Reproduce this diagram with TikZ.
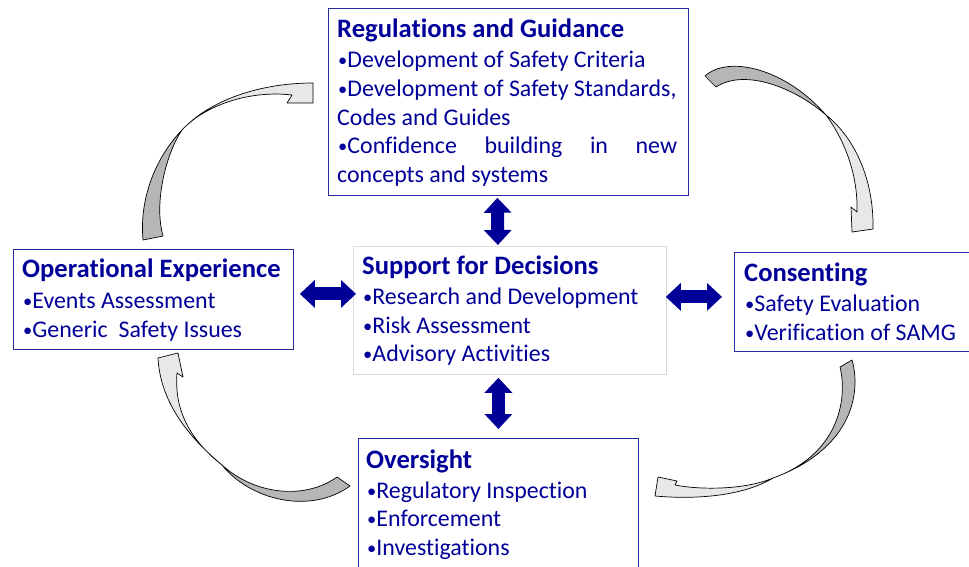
\documentclass[tikz,border=0pt]{standalone}
\usepackage{fontspec}
\setmainfont{Carlito}[Ligatures={NoCommon}]
\usetikzlibrary{arrows.meta,calc}
\definecolor{navy}{RGB}{0,0,153}
\definecolor{boxline}{RGB}{40,40,160}
\definecolor{centerline}{RGB}{217,217,217}
\definecolor{lightg}{RGB}{232,232,232}
\definecolor{darkg}{RGB}{182,182,182}
\newcommand\bul{{\fontsize{18.5}{20}\selectfont\raisebox{1pt}{•}}}
\begin{document}
\begin{tikzpicture}[x=1pt,y=-1pt,
 box/.style={draw=boxline,line width=0.8pt,rectangle,inner sep=0pt,anchor=north west},
 cbox/.style={box,draw=centerline},
 ttl/.style={anchor=base west,inner sep=0pt,text=navy,font=\fontsize{26.6}{30}\selectfont\bfseries},
 itm/.style={anchor=base west,inner sep=0pt,text=navy,font=\fontsize{23.9}{28}\selectfont},
 dbl/.style={draw=navy,line width=13pt,{Triangle[length=15pt,width=27pt]}-{Triangle[length=15pt,width=27pt]}},
 bandL/.style={fill=lightg,draw=black,line width=0.7pt,line join=round},
 bandD/.style={fill=darkg,draw=black,line width=0.7pt,line join=round}]
\useasboundingbox (0,0) rectangle (969,566);

% boxes
\node[box,minimum width=360pt,minimum height=187pt] (reg) at (328,8) {};
\node[box,minimum width=280pt,minimum height=100pt] (opx) at (13,249) {};
\node[cbox,minimum width=313pt,minimum height=128pt] (ctr) at (353,246) {};
\node[box,minimum width=262pt,minimum height=99pt] (cons) at (734,252) {};
\node[box,minimum width=280pt,minimum height=160pt] (ovs) at (358,438) {};

% Regulations and Guidance
\node[ttl] (regT) at (337,37.3) {Regulations and Guidance};
\node[itm] (reg1) at (338,67.7) {\bul Development of Safety Criteria};
\node[itm] (reg2) at (338,96.4) {\bul Development of Safety Standards,};
\node[itm] (reg3) at (337,125.1) {Codes and Guides};
\node[itm] (reg4) at (338,153.8) {\makebox[339pt][s]{\bul Confidence building in new}};
\node[itm] (reg5) at (337,182.5) {concepts and systems};

% Operational Experience
\node[ttl] (opxT) at (22,277.7) {Operational Experience};
\node[itm] (opx1) at (23,308.3) {\bul Events Assessment};
\node[itm] (opx2) at (23,337) {\bul Generic~~Safety Issues};

% Support for Decisions
\node[ttl] (ctrT) at (362,274) {Support for Decisions};
\node[itm] (ctr1) at (363,304.3) {\bul Research and Development};
\node[itm] (ctr2) at (363,333) {\bul Risk Assessment};
\node[itm] (ctr3) at (363,361.7) {\bul Advisory Activities};

% Consenting
\node[ttl] (consT) at (744,281.7) {Consenting};
\node[itm] (cons1) at (745,311.7) {\bul Safety Evaluation};
\node[itm] (cons2) at (745,340) {\bul Verification of SAMG};

% Oversight
\node[ttl] (ovsT) at (366,468.3) {Oversight};
\node[itm] (ovs1) at (367,498.3) {\bul Regulatory Inspection};
\node[itm] (ovs2) at (367,526.7) {\bul Enforcement};
\node[itm] (ovs3) at (367,555) {\bul Investigations};

% double arrows
\draw[dbl] ($(reg.south)+(-11,2)$) -- ($(ctr.north)+(-12,-1)$);
\draw[dbl] ($(opx.east)+(6,-5.5)$) -- ($(ctr.west)+(3,-16.5)$);
\draw[dbl] ($(ctr.east)+(-1,-13.5)$) -- ($(cons.west)+(-12,-5)$);
\draw[dbl] ($(ctr.south)+(-11.5,3)$) -- ($(ovs.north)+(0,-9)$);

% curved arrows
% top-left
\draw[bandL] (182,130) .. controls (210,100) and (260,83) .. (313,83) -- (313,103) -- (287,103) -- (292,95) .. controls (250,90) and (205,105) .. (182,130) -- cycle;
\draw[bandD] (143,240) .. controls (139,195) and (158,155) .. (182,130) .. controls (168,150) and (153,200) .. (163,236) -- cycle;
% top-right
\draw[bandD] (705,76) .. controls (728,55) and (785,68) .. (826,115) .. controls (795,88) and (745,68) .. (716,87) -- cycle;
\draw[bandL] (826,115) .. controls (855,138) and (874,180) .. (873,229) -- (852,232) -- (851,207) -- (857,212) .. controls (858,180) and (848,145) .. (826,115) -- cycle;
% bottom-right
\draw[bandD] (852,360) .. controls (862,395) and (850,450) .. (773,478) .. controls (838,455) and (848,400) .. (840,367) -- cycle;
\draw[bandL] (773,478) .. controls (745,495) and (700,500) .. (655,496) -- (658,477) -- (677,481) -- (675,485) .. controls (700,490) and (745,490) .. (773,478) -- cycle;
% bottom-left
\draw[bandD] (350,486) .. controls (310,515) and (250,500) .. (222,465) .. controls (255,495) and (305,500) .. (337,477) -- cycle;
\draw[bandL] (222,465) .. controls (180,430) and (160,395) .. (158,358) -- (178,353) -- (183,377) -- (177,373) .. controls (174,410) and (190,440) .. (222,465) -- cycle;
\end{tikzpicture}
\end{document}
